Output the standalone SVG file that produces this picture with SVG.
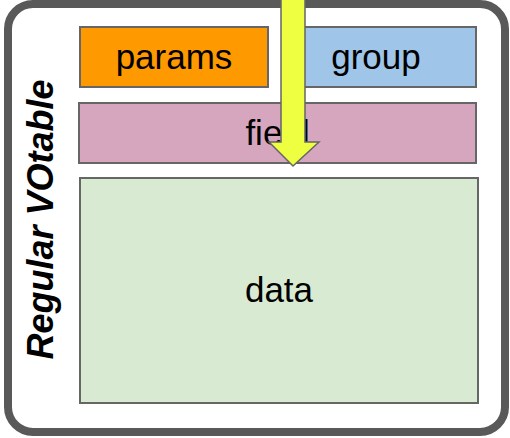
<svg xmlns="http://www.w3.org/2000/svg" width="510" height="438" viewBox="0 0 510 438">
<style>
.box{stroke:#666666;stroke-width:2}
.lbl{font-family:"Liberation Sans",Arial,sans-serif;font-size:35px;fill:#000;text-anchor:middle}
.side{font-family:"Liberation Sans",Arial,sans-serif;font-size:36px;font-weight:bold;font-style:italic;fill:#000;text-anchor:middle}
</style>
<rect width="510" height="438" fill="#ffffff"/>
<g id="votable">
<rect x="8" y="4" width="497" height="428" rx="25" ry="25" fill="#ffffff" stroke="#595959" stroke-width="8"/>
<text class="side" transform="translate(53,219.5) rotate(-90)">Regular VOtable</text>
</g>
<g id="params">
<rect class="box" x="80" y="27" width="188" height="60" fill="#ff9900"/>
<text class="lbl" x="174" y="69">params</text>
</g>
<g id="group">
<rect class="box" x="303" y="27" width="173" height="60" fill="#9fc5e8"/>
<text class="lbl" x="376" y="69">group</text>
</g>
<g id="field">
<rect class="box" x="79" y="103" width="397" height="60" fill="#d5a6bd"/>
<text class="lbl" x="277.5" y="145">field</text>
</g>
<g id="data">
<rect class="box" x="80" y="178" width="398" height="225" fill="#d9ead3"/>
<text class="lbl" x="279" y="302">data</text>
</g>
<g id="connectors">
<path d="M281,-2 L305,-2 L305,142 L319,142 L293,166 L269,142 L281,142 Z" fill="#eeff41" stroke="#666666" stroke-width="1.5"/>
</g>
</svg>
